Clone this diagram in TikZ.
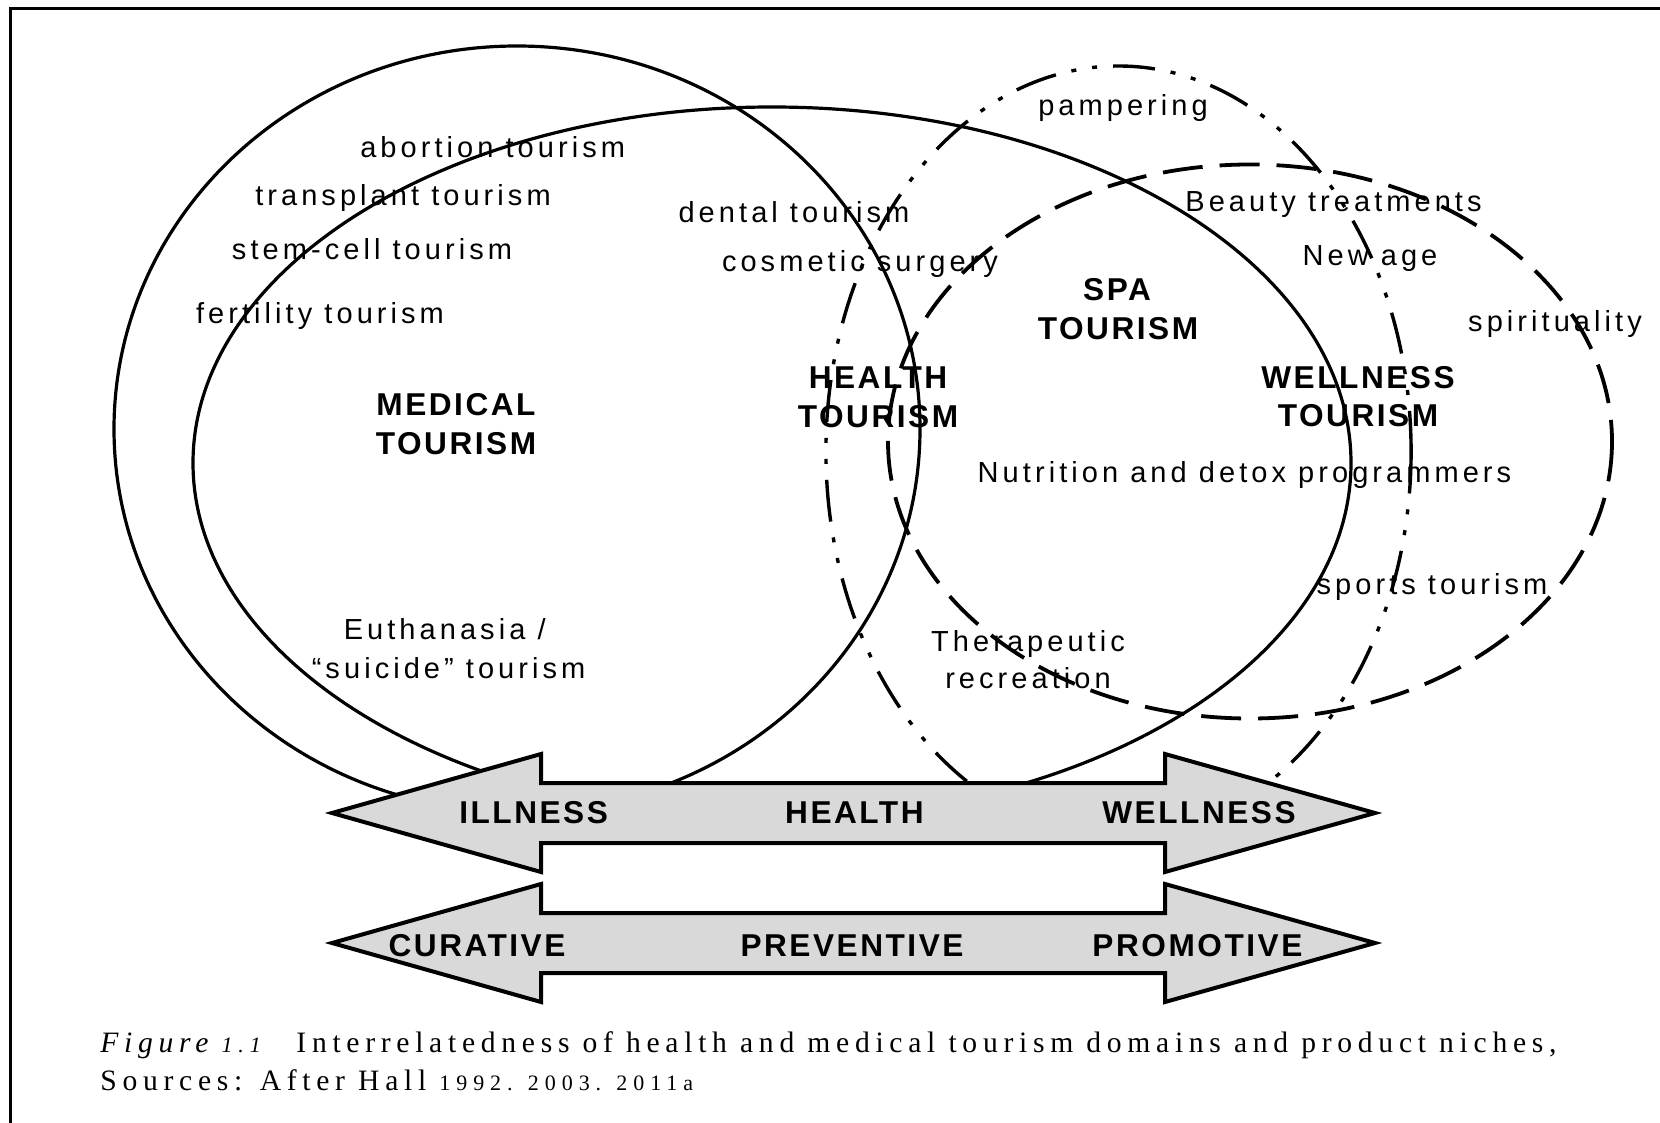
\documentclass[tikz,border=0pt]{standalone}
\usepackage{fontspec}
\setmainfont{Liberation Serif}
\newfontfamily\nichefont[LetterSpace=14]{Liberation Sans}
\newfontfamily\realmfont[LetterSpace=8]{Liberation Sans}
\newfontfamily\capfont[LetterSpace=19.3]{Liberation Serif}
\newfontfamily\numfont[LetterSpace=27]{Liberation Serif}
\newcommand\oldnum[1]{{\numfont\fontsize{11}{13}\selectfont #1}}
\definecolor{bandgray}{RGB}{217,217,217}
\tikzset{every node/.style={inner sep=0pt, anchor=base},
  niche/.style={font=\nichefont\fontsize{14.5}{17}\selectfont},
  realm/.style={font=\realmfont\bfseries\fontsize{15.8}{19}\selectfont},
  capline/.style={font=\capfont\fontsize{14.8}{17}\selectfont, anchor=base west},
  medring/.style={line width=1.6pt},
  spaoval/.style={line width=1.9pt, dash pattern=on 20pt off 8.5pt},
  healthoval/.style={line width=1.7pt, dash pattern=on 21pt off 8pt on 2.5pt off 8pt on 2.5pt off 8pt},
  band/.style={line width=2pt, fill=bandgray},
  frameline/.style={line width=1.5pt}}

\begin{document}
\begin{tikzpicture}[x=0.5pt, y=-0.5pt]
  \useasboundingbox (0,0) rectangle (1660,1123);
  \draw[frameline] (10.8,1123) -- (10.8,9) -- (1660,9);

  % domains
  \draw[medring] (517,429) ellipse [x radius=403, y radius=383];
  \draw[medring] (772,463) ellipse [x radius=579, y radius=356];
  \draw[healthoval] (1118.5,451.5) ellipse [x radius=292.6, y radius=385.5];
  \draw[spaoval] (1250,441.5) ellipse [x radius=362, y radius=277];

  % continuum
  \draw[band] (332,813) -- (541,754) -- (541,783) -- (1165,783) -- (1165,754) -- (1375,813)
    -- (1165,872) -- (1165,843) -- (541,843) -- (541,872) -- cycle;
  \draw[band] (332,943) -- (541,884) -- (541,913) -- (1165,913) -- (1165,884) -- (1375,943)
    -- (1165,1002) -- (1165,973) -- (541,973) -- (541,1002) -- cycle;

  \node[niche] (abort)  at (492.7,158) {abortion tourism};
  \node[niche] (transp) at (403,206)   {transplant tourism};
  \node[niche] (stem)   at (372,260)   {stem-cell tourism};
  \node[niche] (fert)   at (320,323)   {fertility tourism};
  \node[realm] (med)    at (456,415)   {MEDICAL};
  \node[realm] (medt)   at (456,454)   {TOURISM};
  \node[niche] (dental) at (794,223)   {dental tourism};
  \node[niche] (cosm)   at (860,272)   {cosmetic surgery};
  \node[realm] (hlth)   at (878,388.5) {HEALTH};
  \node[realm] (hltht)  at (878,427)   {TOURISM};
  \node[niche] (pamp)   at (1123,116)  {pampering};
  \node[niche] (beauty) at (1333.5,211.7) {Beauty treatments};
  \node[niche] (newage) at (1370,266)  {New age};
  \node[realm] (spa)    at (1117,300.7) {SPA};
  \node[realm] (spat)   at (1118,339.3) {TOURISM};
  \node[realm] (well)   at (1358,388.3) {WELLNESS};
  \node[realm] (wellt)  at (1358,426.7) {TOURISM};
  \node[niche] (spirit) at (1555,331.4) {spirituality};
  \node[niche] (nutri)  at (1244.5,482) {Nutrition and detox programmers};
  \node[niche] (sport)  at (1432,594)  {sports tourism};
  \node[niche] (thera)  at (1028,651.6) {Therapeutic};
  \node[niche] (recr)   at (1028,688.5) {recreation};
  \node[niche] (euth)   at (444.7,639.7) {Euthanasia /};
  \node[niche] (suic)   at (448.6,678.5) {“suicide” tourism};

  \node[realm] (ill)    at (533.6,823.3) {ILLNESS};
  \node[realm] (hpole)  at (854.4,823.3) {HEALTH};
  \node[realm] (wpole)  at (1199,823.3)  {WELLNESS};
  \node[realm] (cur)    at (477,956.7)   {CURATIVE};
  \node[realm] (prev)   at (852,956.7)   {PREVENTIVE};
  \node[realm] (prom)   at (1197.4,956.7) {PROMOTIVE};

  \node[capline] (cap)  at (100,1052.7) {\textit{Figure \oldnum{\itshape 1.1}}\hspace{1em}Interrelatedness of health and medical tourism domains and product niches,};
  \node[capline] (src)  at (100,1090)   {Sources: After Hall \oldnum{1992. 2003. 2011a}};
\end{tikzpicture}
\end{document}
